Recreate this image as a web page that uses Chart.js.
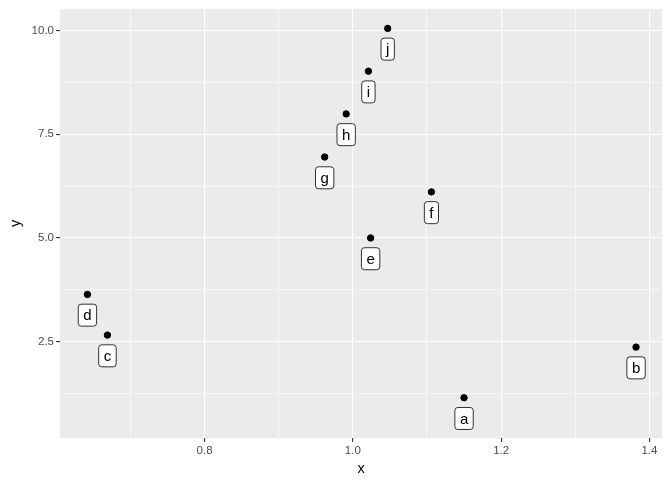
<!DOCTYPE html>
<html lang="en">
<head>
  <meta charset="UTF-8">
  <title>Labelled scatter</title>
  <script src="https://cdn.jsdelivr.net/npm/chart.js"></script>
  <style>
    html, body { margin: 0; padding: 0; background: #ffffff; }
    #wrap { width: 672px; height: 480px; }
  </style>
</head>
<body>
  <div id="wrap"><canvas id="scatter" width="672" height="480"></canvas></div>

  <script>
    // data
    const labels = ['a', 'b', 'c', 'd', 'e', 'f', 'g', 'h', 'i', 'j'];
    const xValues = [1.150, 1.382, 0.669, 0.642, 1.024, 1.106, 0.962, 0.991, 1.021, 1.047];
    const yValues = [1.15, 2.37, 2.66, 3.64, 5.00, 6.11, 6.95, 7.99, 9.02, 10.05];
    const labelNudgeY = -0.5;

    const xTicks = [0.7, 0.8, 0.9, 1.0, 1.1, 1.2, 1.3, 1.4];
    const xMajor = [0.8, 1.0, 1.2, 1.4];
    const yTicks = [1.25, 2.5, 3.75, 5.0, 6.25, 7.5, 8.75, 10.0];
    const yMajor = [2.5, 5.0, 7.5, 10.0];

    const FONT = '"Liberation Sans", Arial, sans-serif';

    const isMajor = (list, v) => list.some(m => Math.abs(m - v) < 1e-6);

    // panel background like ggplot's grey theme
    const panelBg = {
      id: 'panelBg',
      beforeDraw(chart) {
        const { ctx, chartArea: a } = chart;
        ctx.save();
        ctx.fillStyle = '#EBEBEB';
        ctx.fillRect(a.left, a.top, a.right - a.left, a.bottom - a.top);
        ctx.restore();
      }
    };

    // geom_label style boxes
    const pointLabels = {
      id: 'pointLabels',
      afterDatasetsDraw(chart) {
        const { ctx } = chart;
        const xs = chart.scales.x, ys = chart.scales.y;
        ctx.save();
        ctx.font = '15px ' + FONT;
        ctx.textAlign = 'center';
        ctx.textBaseline = 'middle';
        labels.forEach((lab, i) => {
          const cx = xs.getPixelForValue(xValues[i]);
          const cy = ys.getPixelForValue(yValues[i] + labelNudgeY);
          const w = ctx.measureText(lab).width + 10;
          const h = 22;
          ctx.beginPath();
          ctx.roundRect(cx - w / 2, cy - h / 2, w, h, 3);
          ctx.fillStyle = '#ffffff';
          ctx.fill();
          ctx.lineWidth = 0.8;
          ctx.strokeStyle = '#000000';
          ctx.stroke();
          ctx.fillStyle = '#000000';
          ctx.fillText(lab, cx, cy + 1);
        });
        ctx.restore();
      }
    };

    new Chart(document.getElementById('scatter'), {
      type: 'scatter',
      data: {
        datasets: [{
          data: xValues.map((x, i) => ({ x: x, y: yValues[i] })),
          backgroundColor: '#000000',
          borderColor: '#000000',
          pointRadius: 3.2,
          pointHoverRadius: 3.2
        }]
      },
      options: {
        responsive: false,
        animation: false,
        layout: { padding: { top: 5, right: 10, left: 0, bottom: 0 } },
        plugins: {
          legend: { display: false },
          tooltip: { enabled: false }
        },
        scales: {
          x: {
            type: 'linear',
            min: 0.605,
            max: 1.417,
            afterBuildTicks: axis => { axis.ticks = xTicks.map(v => ({ value: v })); },
            afterFit: axis => { axis.height = 42; },
            border: { display: false },
            grid: {
              color: ctx => '#ffffff',
              lineWidth: ctx => isMajor(xMajor, ctx.tick.value) ? 1.1 : 0.55,
              tickColor: ctx => isMajor(xMajor, ctx.tick.value) ? '#333333' : 'rgba(0,0,0,0)',
              tickLength: 4,
              tickWidth: 1.1
            },
            ticks: {
              autoSkip: false,
              maxRotation: 0,
              padding: 2,
              color: '#4D4D4D',
              font: { family: FONT, size: 11.5 },
              callback: v => isMajor(xMajor, v) ? v.toFixed(1) : ''
            },
            title: {
              display: true,
              text: 'x',
              color: '#000000',
              font: { family: FONT, size: 14.5 },
              padding: { top: 3, bottom: 2 }
            }
          },
          y: {
            type: 'linear',
            min: 0.18,
            max: 10.52,
            afterBuildTicks: axis => { axis.ticks = yTicks.map(v => ({ value: v })); },
            afterFit: axis => { axis.width = 60; },
            border: { display: false },
            grid: {
              color: ctx => '#ffffff',
              lineWidth: ctx => isMajor(yMajor, ctx.tick.value) ? 1.1 : 0.55,
              tickColor: ctx => isMajor(yMajor, ctx.tick.value) ? '#333333' : 'rgba(0,0,0,0)',
              tickLength: 4,
              tickWidth: 1.1
            },
            ticks: {
              autoSkip: false,
              padding: 2,
              color: '#4D4D4D',
              font: { family: FONT, size: 11.5 },
              callback: v => isMajor(yMajor, v) ? v.toFixed(1) : ''
            },
            title: {
              display: true,
              text: 'y',
              color: '#000000',
              font: { family: FONT, size: 14.5 },
              padding: { top: 7, bottom: 2 }
            }
          }
        }
      },
      plugins: [panelBg, pointLabels]
    });
  </script>
</body>
</html>
